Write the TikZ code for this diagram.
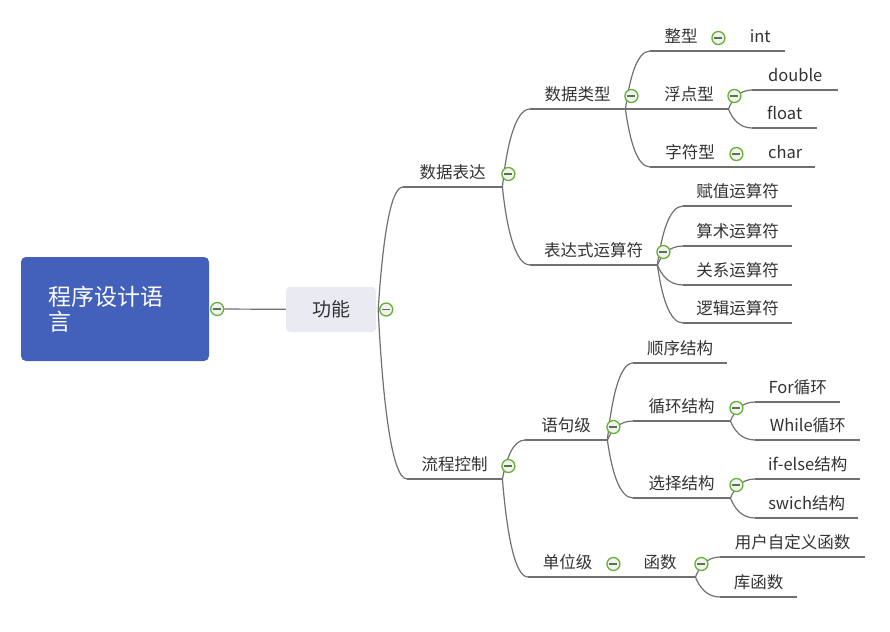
\documentclass[tikz,border=0pt]{standalone}
\usepackage{fontspec}
\setmainfont{Noto Sans CJK SC}
\usepackage{tikz}
\usetikzlibrary{calc,positioning}
\definecolor{rootblue}{RGB}{67,96,187}
\definecolor{centerfill}{RGB}{234,234,243}
\definecolor{linegray}{RGB}{112,112,112}
\definecolor{txtgray}{RGB}{50,50,50}
\definecolor{foldgreen}{RGB}{98,178,48}
\definecolor{foldbar}{RGB}{88,118,78}
\tikzset{
  mroot/.style={rectangle,rounded corners=5pt,fill=rootblue,text=white,minimum width=188pt,minimum height=104pt,text width=134pt,align=left,font=\fontsize{23}{25}\selectfont},
  mcenter/.style={rectangle,rounded corners=4pt,fill=centerfill,text=txtgray,minimum width=90pt,minimum height=45pt,font=\fontsize{19}{22}\selectfont},
  mtopic/.style={inner sep=0pt,minimum height=30pt,anchor=south west,text=txtgray,font=\fontsize{16.5}{20}\selectfont},
  mbranch/.style={draw=linegray,line width=1.2pt},
  mfold/.style={circle,draw=foldgreen,line width=1.3pt,fill=gray!10,minimum size=13pt,inner sep=0pt,
    path picture={\draw[foldbar,line width=1.5pt] ([xshift=-4pt]path picture bounding box.center) -- ([xshift=4pt]path picture bounding box.center);}}
}
% curved branch from the end of one underline to the start of the next
\newcommand\twig[2]{\draw[mbranch] let \p1=(#1), \p2=(#2) in (\p1) .. controls ({\x1+4pt},{0.5*(\y1+\y2)}) and ({\x1+0.45*(\x2-\x1)},\y2) .. (\p2);}

\begin{document}
\begin{tikzpicture}[x=1pt,y=-1pt]
  \useasboundingbox (0,0) rectangle (890,631);
  % root and centre
  \node[mroot] (root) at (115,309) {程序设计语\\言};
  \node[mcenter] (gn) at (331,309.5) {功能};
  \coordinate (gn-out) at ([xshift=2pt]gn.east);
  % first level
  \node[mtopic,minimum width=99pt] (sjbd) at (403,187) {数据表达};
  \node[mtopic,minimum width=95pt] (lckz) at (407,479) {流程控制};
  % data
  \node[mtopic,minimum width=95pt] (sjlx) at (530,109) {数据类型};
  \node[mtopic,minimum width=127pt] (bdys) at (530,265) {表达式运算符};
  \node[mtopic,minimum width=62pt] (zx) at (650,51) {整型};
  \node[mtopic,minimum width=78pt] (fdx) at (650,109) {浮点型};
  \node[mtopic,minimum width=80pt] (zfx) at (650,167) {字符型};
  \node[mtopic,minimum width=50pt] (int) at (735,51) {int};
  \node[mtopic,minimum width=86pt] (double) at (752,90) {double};
  \node[mtopic,minimum width=65pt] (float) at (752,128) {float};
  \node[mtopic,minimum width=60pt] (char) at (755,167) {char};
  \node[mtopic,minimum width=109pt] (fz) at (683,206) {赋值运算符};
  \node[mtopic,minimum width=109pt] (ss) at (683,246) {算术运算符};
  \node[mtopic,minimum width=109pt] (gx) at (683,285) {关系运算符};
  \node[mtopic,minimum width=109pt] (lj) at (683,323) {逻辑运算符};
  % control flow
  \node[mtopic,minimum width=82pt] (yjj) at (525,440) {语句级};
  \node[mtopic,minimum width=79pt] (dwj) at (528,577) {单位级};
  \node[mtopic,minimum width=94pt] (sx) at (633,363) {顺序结构};
  \node[mtopic,minimum width=97pt] (xh) at (633,421) {循环结构};
  \node[mtopic,minimum width=97pt] (xz) at (633,498) {选择结构};
  \node[mtopic,minimum width=85pt] (for) at (755,402) {For循环};
  \node[mtopic,minimum width=105pt] (while) at (755,440) {While循环};
  \node[mtopic,minimum width=105pt] (ifelse) at (755,479) {if-else结构};
  \node[mtopic,minimum width=103pt] (swich) at (755,518) {swich结构};
  \node[mtopic,minimum width=70pt] (hs) at (625,577) {函数};
  \node[mtopic,minimum width=145pt] (yhzdy) at (720,557) {用户自定义函数};
  \node[mtopic,minimum width=77pt] (khs) at (720,597) {库函数};

  % underlines
  \foreach \n in {sjbd,lckz,sjlx,bdys,zx,fdx,zfx,int,double,float,char,fz,ss,gx,lj,
                  yjj,dwj,sx,xh,xz,for,while,ifelse,swich,hs,yhzdy,khs}
    \draw[mbranch] (\n.south west) -- (\n.south east);
  % branches
  \twig{gn-out}{sjbd.south west}
  \twig{gn-out}{lckz.south west}
  \foreach \a/\b in {sjbd/sjlx,sjbd/bdys,sjlx/zx,sjlx/fdx,sjlx/zfx,zx/int,fdx/double,fdx/float,zfx/char,
                     bdys/fz,bdys/ss,bdys/gx,bdys/lj,lckz/yjj,lckz/dwj,yjj/sx,yjj/xh,yjj/xz,
                     xh/for,xh/while,xz/ifelse,xz/swich,dwj/hs,hs/yhzdy,hs/khs}
    \twig{\a.south east}{\b.south west};

  % fold markers
  \node[mfold] (f-root) at ([xshift=8pt]root.east) {};
  \node[mfold] (f-gn) at ([xshift=10pt]gn.east) {};
  \draw[mbranch] (f-root) -- (gn);
  \foreach \n in {sjbd,lckz,sjlx,bdys,zx,fdx,zfx,yjj,dwj,xh,xz,hs}
    \node[mfold] (f-\n) at ([shift={(6pt,13pt)}]\n.south east) {};
\end{tikzpicture}
\end{document}
